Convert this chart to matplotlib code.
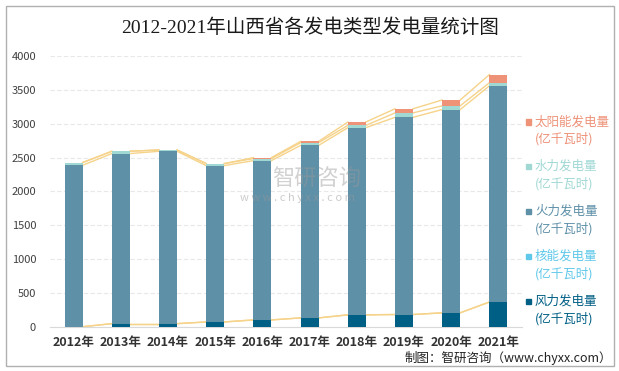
import numpy as np
import matplotlib.pyplot as plt
from matplotlib.patches import Rectangle

plt.rcParams['font.family'] = ['Noto Sans CJK SC', 'DejaVu Sans']

years = ['2012年', '2013年', '2014年', '2015年', '2016年',
         '2017年', '2018年', '2019年', '2020年', '2021年']
wind = [0, 45, 45, 70, 100, 130, 175, 180, 205, 365]
nuclear = [0, 0, 0, 0, 0, 0, 0, 0, 0, 0]
thermal = [2385, 2513, 2547, 2310, 2354, 2549, 2765, 2914, 3004, 3194]
hydro = [40, 34, 20, 30, 30, 40, 34, 65, 55, 46]
solar = [0, 0, 0, 0, 14, 19, 50, 61, 86, 120]

names = ['风力发电量', '核能发电量', '火力发电量', '水力发电量', '太阳能发电量']
colors = ['#005f85', '#5fc8ea', '#5e90a8', '#a0d8d4', '#ee9278']
series = [wind, nuclear, thermal, hydro, solar]

fig = plt.figure(figsize=(6.19, 3.71), dpi=100)
ax = fig.add_axes([50/619, 44.3/371, 472/619, 270.7/371])

x = np.arange(len(years))
w = 0.38
bottom = np.zeros(len(years))
tops = []
for vals, c in zip(series, colors):
    vals = np.array(vals, dtype=float)
    ax.bar(x, vals, w, bottom=bottom, color=c, zorder=3)
    bottom = bottom + vals
    tops.append(bottom.copy())

# series lines between adjacent bars
for t in tops:
    for i in range(len(years) - 1):
        ax.plot([x[i] + w/2, x[i+1] - w/2], [t[i], t[i+1]],
                color='#f6d38a', lw=1.0, zorder=2)

ax.set_xlim(-0.5, len(years) - 0.5)
ax.set_ylim(0, 4000)
ax.set_yticks(np.arange(0, 4001, 500))
ax.set_xticks(x)
ax.set_xticklabels(years, fontsize=9, fontweight='bold', color='#333333')
ax.tick_params(axis='y', labelsize=8, colors='#404040', length=0, pad=10)
ax.tick_params(axis='x', length=0, pad=7)
ax.grid(axis='y', color='#e8e8e8', lw=0.8, ls=(0, (4, 2)), zorder=0)
for s in ['top', 'right', 'left']:
    ax.spines[s].set_visible(False)
ax.spines['bottom'].set_color('#d9d9d9')

# legend drawn on the right
leg_y = [121.8, 166.5, 211.5, 256.5, 301.5]
for name, c, yy in zip(names[::-1], colors[::-1], leg_y):
    fig.add_artist(Rectangle((525.5/619, 1 - (yy + 2.8)/371), 5.5/619, 5.5/371,
                             transform=fig.transFigure, color=c))
    fig.text(535/619, 1 - yy/371, name, fontsize=9, color=c, va='center', ha='left')
    fig.text(535/619, 1 - (yy + 17)/371, '(亿千瓦时)', fontsize=9, color=c,
             va='center', ha='left')

fig.text(310/619, 1 - 28/371, '2012-2021年山西省各发电类型发电量统计图',
         fontsize=14, color='#1a1a1a', ha='center', va='center',
         family=['Liberation Serif', 'Noto Sans CJK SC'])

fig.text(612/619, 1 - 358/371, '制图：智研咨询（www.chyxx.com）', fontsize=9,
         color='#222222', ha='right', va='center')

# watermark
fig.text(272/619, 1 - 179/371, '智研咨询', fontsize=16, color='#999999',
         alpha=0.45, ha='left', va='center')
fig.text(240/619, 1 - 198/371, 'w w w . c h y x x . c o m', fontsize=8,
         color='#999999', alpha=0.5, ha='left', va='center')

fig.add_artist(Rectangle((6/619, 5/371), 608/619, 360/371, transform=fig.transFigure,
                         fill=False, edgecolor='#b0b0b0', lw=1))

fig.savefig('out.png', dpi=100)
